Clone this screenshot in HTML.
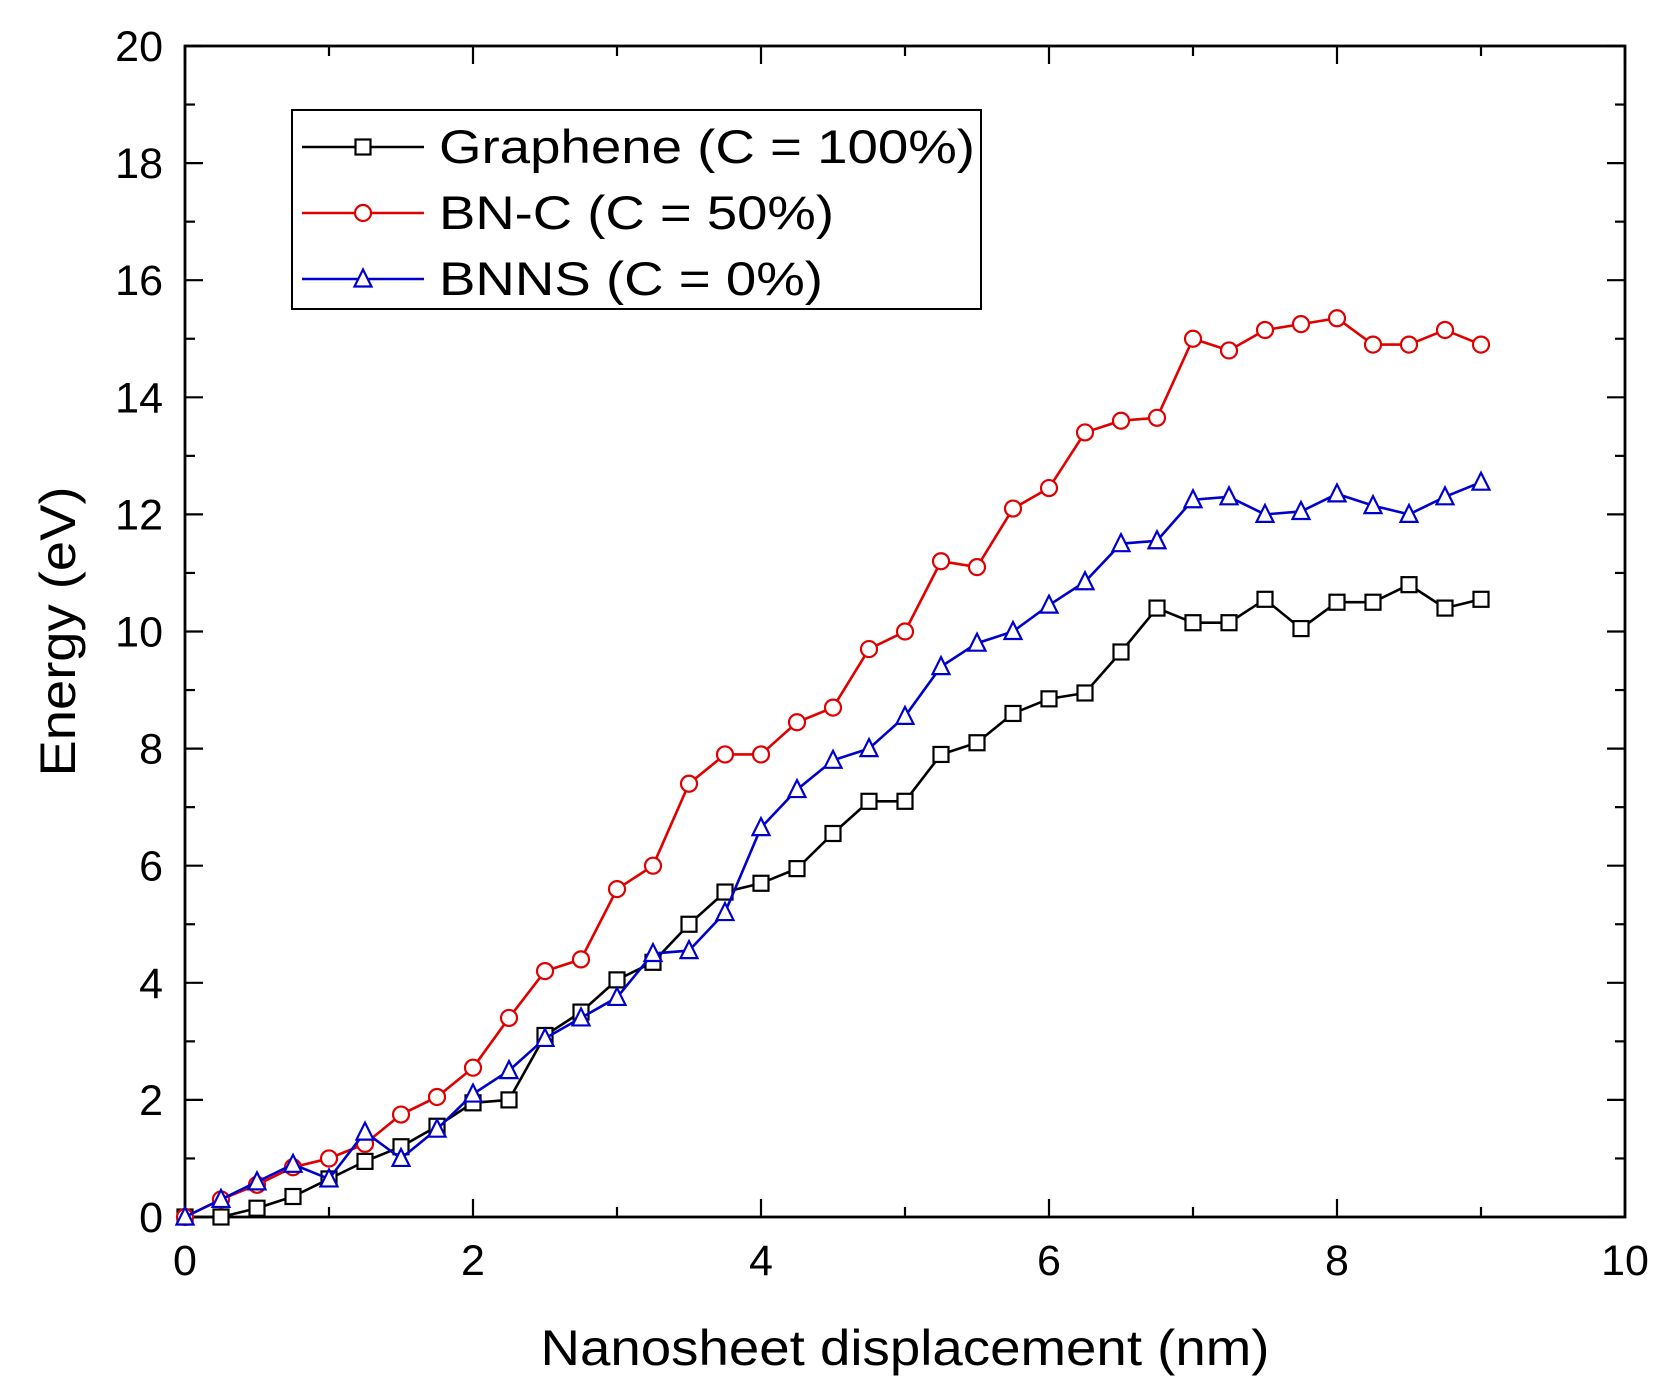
<!DOCTYPE html>
<html><head><meta charset="utf-8"><style>body{margin:0;background:#fff}svg{display:block}text{font-family:"Liberation Sans",Arial,sans-serif}</style></head>
<body>
<svg id="chart" width="1672" height="1400" viewBox="0 0 1672 1400" xmlns="http://www.w3.org/2000/svg"></svg>
<script>
const xs=[0,0.25,0.5,0.75,1,1.25,1.5,1.75,2,2.25,2.5,2.75,3,3.25,3.5,3.75,4,4.25,4.5,4.75,5,5.25,5.5,5.75,6,6.25,6.5,6.75,7,7.25,7.5,7.75,8,8.25,8.5,8.75,9];
const graphene=[0,0.0,0.15,0.35,0.65,0.95,1.2,1.55,1.95,2.0,3.1,3.5,4.05,4.35,5.0,5.55,5.7,5.95,6.55,7.1,7.1,7.9,8.1,8.6,8.85,8.95,9.65,10.4,10.15,10.15,10.55,10.05,10.5,10.5,10.8,10.4,10.55];
const bnc=[0,0.3,0.55,0.85,1.0,1.25,1.75,2.05,2.55,3.4,4.2,4.4,5.6,6.0,7.4,7.9,7.9,8.45,8.7,9.7,10.0,11.2,11.1,12.1,12.45,13.4,13.6,13.65,15.0,14.8,15.15,15.25,15.35,14.9,14.9,15.15,14.9];
const bnns=[0,0.3,0.6,0.9,0.65,1.45,1.0,1.5,2.1,2.5,3.05,3.4,3.75,4.5,4.55,5.2,6.65,7.3,7.8,8.0,8.55,9.4,9.8,10.0,10.45,10.85,11.5,11.55,12.25,12.3,12.0,12.05,12.35,12.15,12.0,12.3,12.55];
const xTicks=[0,2,4,6,8,10];
const yTicks=[0,2,4,6,8,10,12,14,16,18,20];
const L=185,R=1625,T=46,B=1217;
const sx=v=>L+(v-0)/10*(R-L), sy=v=>B-(v-0)/20*(B-T);
const svg=document.getElementById('chart');const NS='http://www.w3.org/2000/svg';
function el(t,a,p){const e=document.createElementNS(NS,t);for(const k in a)e.setAttribute(k,a[k]);(p||svg).appendChild(e);return e;}
const frame=el('rect',{x:L,y:T,width:R-L,height:B-T,fill:'none',stroke:'#000','stroke-width':2.8});


for(let v=0;v<=10;v+=1){const x=sx(v),len=v%2==0?18:10;
 el('line',{x1:x,y1:B,x2:x,y2:B-len,stroke:'#000','stroke-width':2.2});
 el('line',{x1:x,y1:T,x2:x,y2:T+len,stroke:'#000','stroke-width':2.2});}
for(let v=0;v<=20;v+=1){const y=sy(v),len=v%2==0?18:10;
 el('line',{x1:L,y1:y,x2:L+len,y2:y,stroke:'#000','stroke-width':2.2});
 el('line',{x1:R,y1:y,x2:R-len,y2:y,stroke:'#000','stroke-width':2.2});}
xTicks.forEach(v=>{const t=el('text',{x:sx(v),y:B+58,'font-size':43,'text-anchor':'middle'});t.textContent=v;
 
 });
yTicks.forEach(v=>{const t=el('text',{x:L-22,y:sy(v)+15,'font-size':43,'text-anchor':'end'});t.textContent=v;
 
 });
const xt=el('text',{x:(L+R)/2,y:1365,'font-size':50,'text-anchor':'middle',textLength:729,lengthAdjust:'spacingAndGlyphs'});xt.textContent='Nanosheet displacement (nm)';


const yt=el('text',{x:0,y:0,'font-size':50,'text-anchor':'middle',textLength:290,lengthAdjust:'spacingAndGlyphs',transform:`translate(75,${(T+B)/2}) rotate(-90)`});yt.textContent='Energy (eV)';


function marker(type,x,y,color,g){const s=7.5;
 if(type=='sq')return el('rect',{x:x-s,y:y-s,width:2*s,height:2*s,fill:'#fff',stroke:color,'stroke-width':2.2},g);
 if(type=='ci')return el('circle',{cx:x,cy:y,r:s+0.5,fill:'#fff',stroke:color,'stroke-width':2.2},g);
 return el('polygon',{points:`${x},${y-s-2} ${x-s-1},${y+s} ${x+s+1},${y+s}`,fill:'#fff',stroke:color,'stroke-width':2.2},g);}
const series=[[graphene,'#000','sq','graphene'],[bnc,'#e00000','ci','bn-c'],[bnns,'#0000cc','tr','bnns']];
series.forEach(([d,c,m,n])=>{const g=el('g',{});
 
 
 el('polyline',{points:d.map((v,i)=>sx(xs[i])+','+sy(v)).join(' '),fill:'none',stroke:c,'stroke-width':2.6},g);
 d.forEach((v,i)=>{const mk=marker(m,sx(xs[i]),sy(v),c,g);
  
  });});
const lg=el('g',{});


el('rect',{x:292,y:110,width:689,height:199,fill:'#fff',stroke:'#000','stroke-width':2},lg);
const labels=['Graphene (C = 100%)','BN-C (C = 50%)','BNNS (C = 0%)'];
const lens=[536,395,384];
series.forEach(([d,c,m,n],i)=>{const y=147+i*66;
 const e=el('g',{},lg);
 
 
 el('line',{x1:302,y1:y,x2:424,y2:y,stroke:c,'stroke-width':2.6},e);
 marker(m,363,y,c,e);
 const t=el('text',{x:439,y:y+16,'font-size':47,textLength:lens[i],lengthAdjust:'spacingAndGlyphs'},e);t.textContent=labels[i];});
</script>
</body></html>
